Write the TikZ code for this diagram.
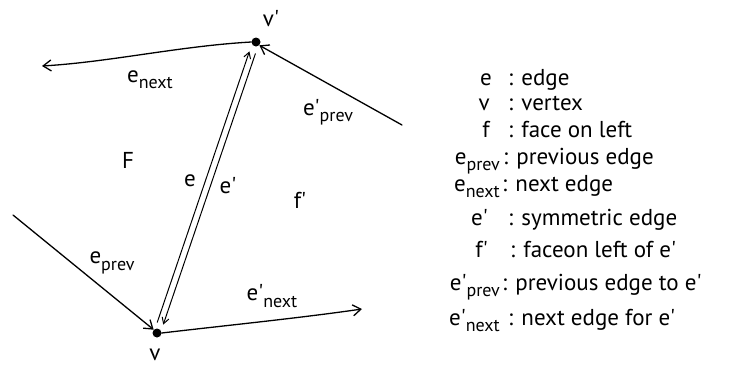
\documentclass[tikz,border=0pt]{standalone}
\usepackage{fontspec}
\setmainfont{PT Sans}
\usetikzlibrary{arrows.meta,calc}
\newcommand\sbs[1]{\raisebox{-0.55ex}{\fontsize{18}{18}\selectfont #1}}
\newcommand\pr{\textquotesingle}
\begin{document}
\begin{tikzpicture}[x=1pt,y=-1pt,
  ink/.style={line width=1.3pt, line cap=round},
  arr/.style={ink,-{Straight Barb[length=8pt,width=11pt]}},
  sarr/.style={line width=1pt,-{Straight Barb[length=6pt,width=7pt]}},
  dot/.style={circle,fill,inner sep=0pt,minimum size=9pt},
  lbl/.style={font=\fontsize{23}{23}\selectfont, inner sep=0pt},
  term/.style={lbl,anchor=base east},
  desc/.style={lbl,anchor=base west}]
\useasboundingbox (0,0) rectangle (745,365);

% vertices
\node[dot] (vp) at (256,42) {};
\node[dot] (v) at (157,333) {};
\node[lbl] (vplbl) at (271,19) {v\pr};
\node[lbl,anchor=base] (vlbl) at (155,360) {v};

% free ends
\coordinate (nextend) at (42,66);
\coordinate (pprevstart) at (402,125);
\coordinate (prevstart) at (13,215);
\coordinate (pnextend) at (362,309);

% e_next
\draw[arr] (vp.west) .. controls (180,46) and (110,62) .. (nextend);
\node[lbl] (enext) at (150,80) {e\sbs{next}};
% e'_prev
\draw[arr] (pprevstart) -- (vp.south east);
\node[lbl] (epprev) at (328,112) {e\pr\sbs{prev}};
% e_prev
\draw[arr] (prevstart) -- (v.north west);
\node[lbl] (eprev) at (112,263) {e\sbs{prev}};
% e'_next
\draw[arr] (v.east) .. controls (230,325) and (300,318) .. (pnextend);
\node[lbl] (epnext) at (272,296) {e\pr\sbs{next}};

% double half-edges
\coordinate (a1) at ($(v)!10pt!(vp)$);
\coordinate (a2) at ($(vp)!11pt!(v)$);
\draw[sarr] ($(a1)!3.2pt!90:(vp)$) -- ($(a2)!3.2pt!-90:(v)$);
\draw[sarr] ($(a2)!3.2pt!90:(v)$) -- ($(a1)!3.2pt!-90:(vp)$);
\node[lbl] (elbl) at (190,181) {e};
\node[lbl] (eplbl) at (228,186) {e\pr};

% faces
\node[lbl] (F) at (128,160) {F};
\node[lbl] (fp) at (300,200) {f\pr};

% legend
\node[term] (t1) at (492,85) {e};       \node[desc] (d1) at (508,85) {: edge};
\node[term] (t2) at (490,110) {v};      \node[desc] (d2) at (508,110) {: vertex};
\node[term] (t3) at (490,137) {f};      \node[desc] (d3) at (508,137) {: face on left};
\node[term] (t4) at (500,164) {e\sbs{prev}};  \node[desc] (d4) at (503,164) {: previous edge};
\node[term] (t5) at (500,191) {e\sbs{next}};  \node[desc] (d5) at (502,191) {: next edge};
\node[term] (t6) at (488,225) {e\pr};     \node[desc] (d6) at (508,225) {: symmetric edge};
\node[term] (t7) at (488,257) {f\pr};     \node[desc] (d7) at (510,257) {: faceon left of e\pr};
\node[term] (t8) at (500,290) {e\pr\sbs{prev}}; \node[desc] (d8) at (502,290) {: previous edge to e\pr};
\node[term] (t9) at (500,325) {e\pr\sbs{next}}; \node[desc] (d9) at (508,325) {: next edge for e\pr};
\end{tikzpicture}
\end{document}
